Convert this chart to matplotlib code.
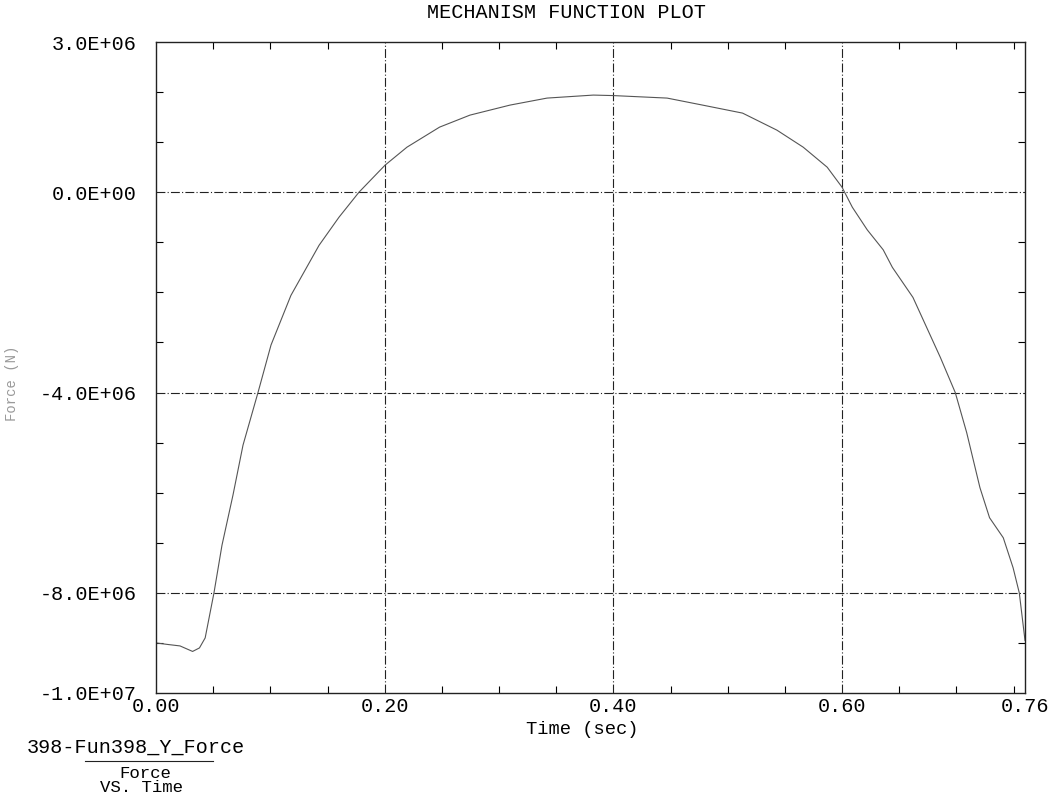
import numpy as np
import matplotlib
matplotlib.use('Agg')
import matplotlib.pyplot as plt
from matplotlib.ticker import MultipleLocator, FixedLocator
from matplotlib.lines import Line2D

# curve: time (s), force (1e6 N)
time = [0.0, 0.010, 0.021, 0.032, 0.038, 0.043, 0.0507, 0.0577, 0.0673, 0.0761,
        0.0892, 0.1006, 0.118, 0.1426, 0.160, 0.1775, 0.2003, 0.2195, 0.248, 0.2746,
        0.3096, 0.342, 0.3825, 0.400, 0.447, 0.478, 0.513, 0.543, 0.566, 0.587,
        0.600, 0.609, 0.622, 0.636, 0.644, 0.662, 0.686, 0.699, 0.709, 0.7206, 0.729,
        0.741, 0.7496, 0.755, 0.760]
force_m = [-9.00, -9.03, -9.06, -9.17, -9.10, -8.90, -8.00, -7.05, -6.05, -5.05,
           -4.00, -3.05, -2.06, -1.06, -0.50, 0.00, 0.54, 0.90, 1.30, 1.54,
           1.74, 1.88, 1.94, 1.93, 1.88, 1.74, 1.58, 1.24, 0.90, 0.50,
           0.10, -0.30, -0.75, -1.15, -1.50, -2.10, -3.30, -4.00, -4.80, -5.90, -6.50,
           -6.90, -7.50, -8.00, -8.95]

xticks = [0.0, 0.2, 0.4, 0.6, 0.76]
xlabels = ['0.00', '0.20', '0.40', '0.60', '0.76']
yticks = [-1.0e7, -8.0e6, -4.0e6, 0.0, 3.0e6]
ylabels = ['-1.0E+07', '-8.0E+06', '-4.0E+06', '0.0E+00', '3.0E+06']
xgrid = [0.2, 0.4, 0.6]
ygrid = [-8.0e6, -4.0e6, 0.0]

W, H = 1062, 799
plt.rcParams['font.family'] = ['Liberation Mono', 'DejaVu Sans Mono']
fig = plt.figure(figsize=(W / 100, H / 100), dpi=100)
ax = fig.add_axes([156 / W, 1 - 693 / H, 869 / W, 651 / H])

force = np.array(force_m) * 1e6
ax.plot(time, force, color='#555555', lw=0.8)

ax.set_xlim(0, 0.76)
ax.set_ylim(-1.0e7, 3.0e6)

for g in xgrid:
    ax.axvline(g, color='#222222', lw=0.8, ls=(0, (8, 2, 1, 2)), zorder=0)
for g in ygrid:
    ax.axhline(g, color='#222222', lw=0.8, ls=(0, (8, 2, 1, 2)), zorder=0)

ax.xaxis.set_major_locator(FixedLocator(xticks))
ax.set_xticklabels(xlabels)
ax.yaxis.set_major_locator(FixedLocator(yticks))
ax.set_yticklabels(ylabels)
ax.xaxis.set_minor_locator(MultipleLocator(0.05))
ax.yaxis.set_minor_locator(MultipleLocator(1e6))
ax.tick_params(which='major', length=0, labelsize=14.5, pad=14)
ax.tick_params(axis='x', which='major', pad=3)
ax.tick_params(which='minor', direction='in', length=5, width=0.8,
               top=True, right=True)

for s in ax.spines.values():
    s.set_linewidth(1.0)
    s.set_color('#222222')

fig.text(566 / W, 1 - 13 / H, 'MECHANISM FUNCTION PLOT', ha='center', va='center',
         fontsize=14.5)
fig.text(582 / W, 1 - 729 / H, 'Time (sec)', ha='center', va='center', fontsize=13.5)
fig.text(12 / W, 1 - 383 / H, 'Force (N)', ha='center', va='center', rotation=90,
         fontsize=10, color='#999999')

fig.text(136 / W, 1 - 747 / H, '398-Fun398_Y_Force', ha='center', va='center',
         fontsize=14.5)
fig.add_artist(Line2D([85 / W, 213 / W], [1 - 761 / H, 1 - 761 / H],
                      color='#222222', lw=0.8))
fig.text(145 / W, 1 - 773 / H, 'Force', ha='center', va='center', fontsize=12.5)
fig.text(141 / W, 1 - 788 / H, 'VS. Time', ha='center', va='center', fontsize=12.5)

fig.savefig('out.png', dpi=100)
